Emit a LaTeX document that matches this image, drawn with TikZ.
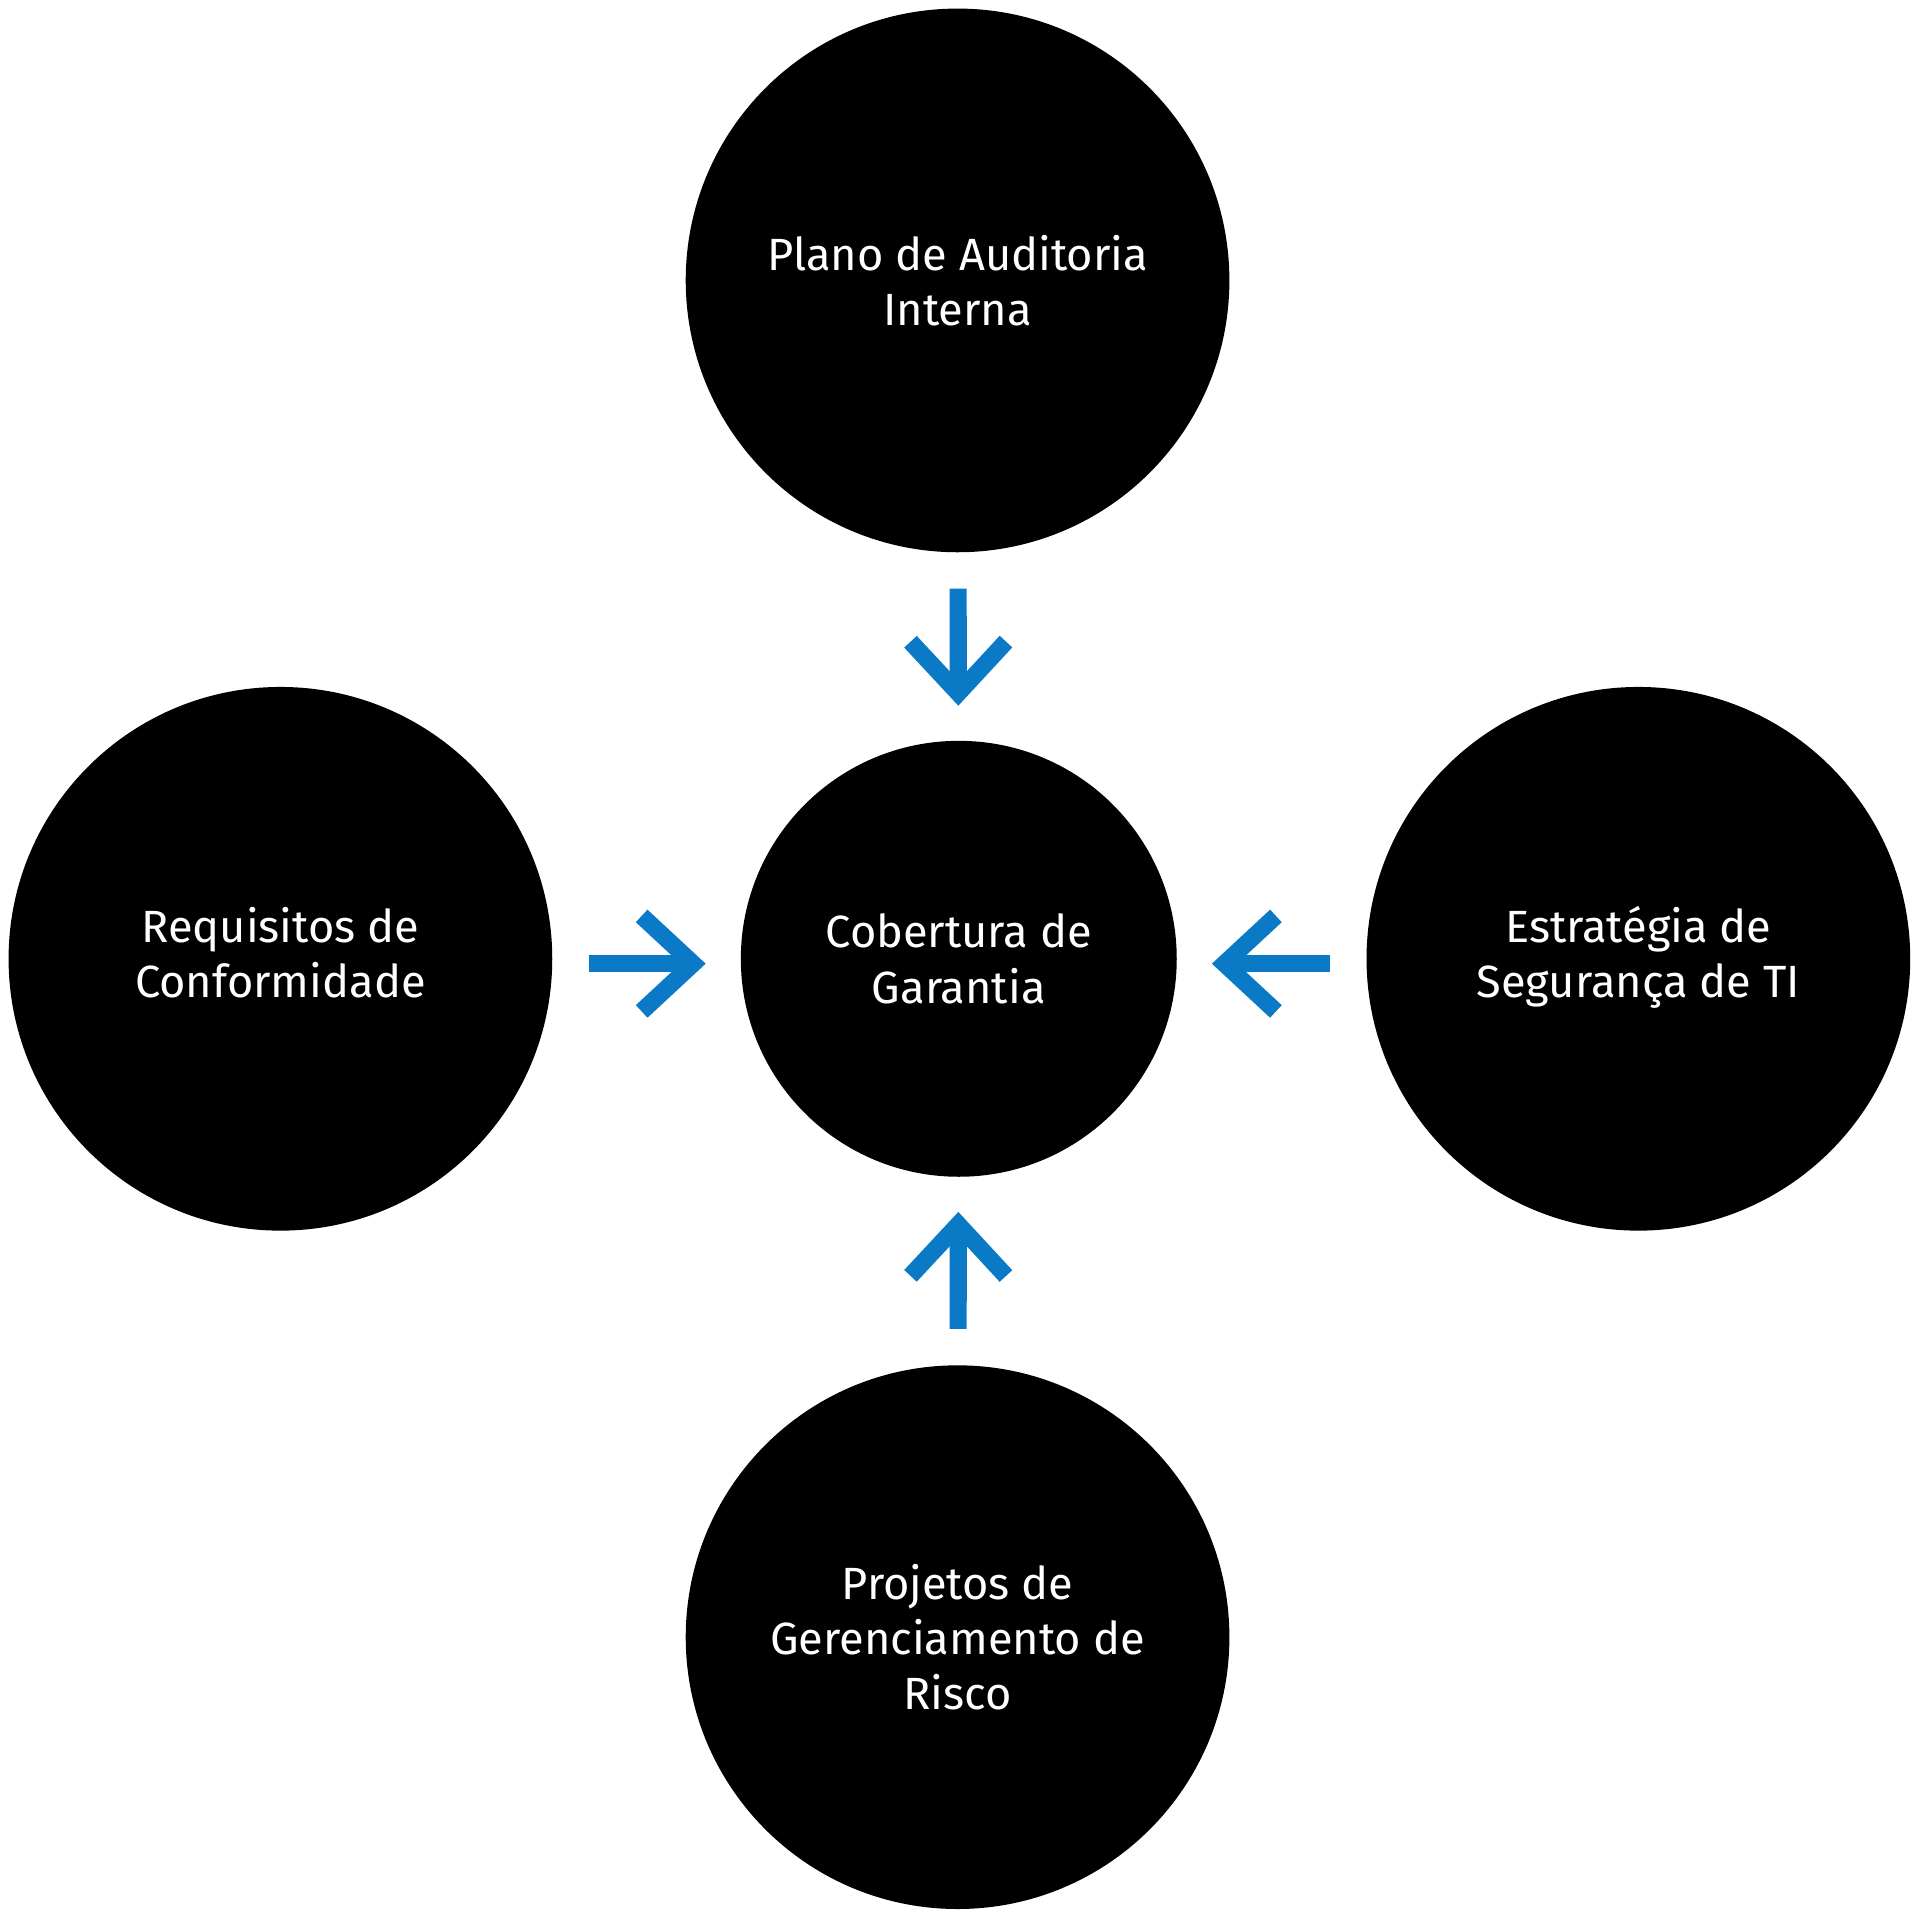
\documentclass[tikz,border=0pt]{standalone}
\usepackage{fontspec}
\setmainfont{Fira Sans}
\usetikzlibrary{arrows.meta}
\definecolor{flowblue}{RGB}{10,122,198}
\newcommand{\lowtext}[2]{\raisebox{-#1}{\begin{tabular}{@{}c@{}}#2\end{tabular}}}
\tikzset{
  topic/.style={circle, fill=black, minimum size=4.44cm, inner sep=0pt, text=white, align=center, font=\fontsize{10.5}{12.8}\selectfont},
  hub/.style={topic, minimum size=3.56cm},
  feed/.style={draw=flowblue, line width=0.14cm, shorten <=0.29cm, shorten >=0.28cm, -{Straight Barb[length=0.42cm, width=0.78cm]}}
}
\begin{document}
\begin{tikzpicture}
	\useasboundingbox (0, 0) rectangle (15.68, -15.67);
	
	\node[hub] (cover) at (7.83, -7.83) {Cobertura de\\Garantia};
	\node[topic] (audit) at (7.82, -2.29) {Plano de Auditoria\\Interna};
	\node[topic] (comply) at (2.29, -7.83) {\lowtext{0.11cm}{Requisitos de\\Conformidade}};
	\node[topic] (secure) at (13.38, -7.83) {\lowtext{0.16cm}{Estratégia de\\Segurança de TI}};
	\node[topic] (risk) at (7.82, -13.37) {Projetos de\\Gerenciamento de\\Risco};
	
	\draw[feed] (audit) -- (cover);
	\draw[feed] ([yshift=-0.04cm]comply.east) -- ([yshift=-0.04cm]cover.west);
	\draw[feed] ([yshift=-0.04cm]secure.west) -- ([yshift=-0.04cm]cover.east);
	\draw[feed] (risk) -- (cover);
\end{tikzpicture}
\end{document}
